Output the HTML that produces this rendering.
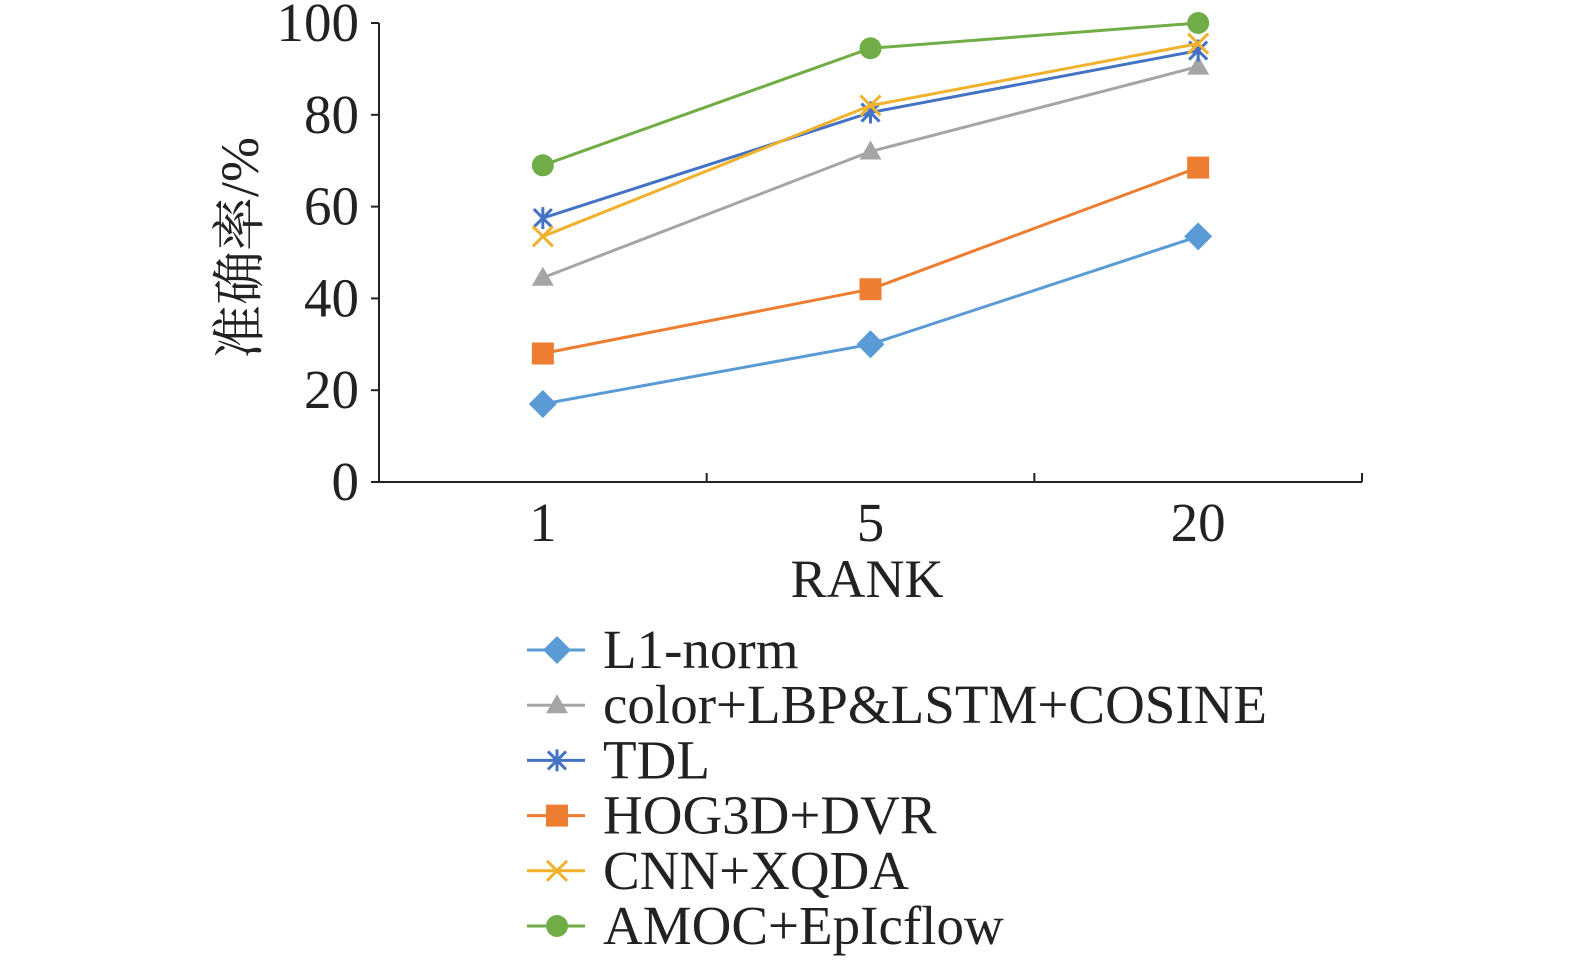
<!DOCTYPE html>
<html><head><meta charset="utf-8"><style>
body{margin:0;background:#fff}
svg text{font-family:"Liberation Serif","Noto Serif CJK SC",serif;fill:#222}
</style></head><body>
<svg id="c" width="1575" height="963"></svg>
<script>
const categories=["1","5","20"];
const yTicks=[0,20,40,60,80,100];
const seriesNames=["L1-norm","color+LBP&LSTM+COSINE","TDL","HOG3D+DVR","CNN+XQDA","AMOC+EpIcflow"];
const l1Values=[17,30,53.5];
const colorLbpValues=[44.5,72,90.5];
const tdlValues=[57.5,80.5,94];
const hogValues=[28,42,68.5];
const cnnValues=[53.5,82,95.5];
const amocValues=[69,94.5,100];
const allValues=[l1Values,colorLbpValues,tdlValues,hogValues,cnnValues,amocValues];
const colors=["#5b9bd5","#a5a5a5","#4472c4","#ed7d31","#f0b12c","#70ad47"];
const markers=["diamond","triangle","star","square","x","circle"];
const NS="http://www.w3.org/2000/svg";
const svg=document.getElementById('c');
const X0=379,X1=1362,Y0=482,Y1=23;
const band=(X1-X0)/categories.length;
const xs=i=>X0+band*(i+0.5);
const ys=v=>Y0-(v/100)*(Y0-Y1);
function el(t,a,p){const e=document.createElementNS(NS,t);for(const k in a)e.setAttribute(k,a[k]);(p||svg).appendChild(e);return e;}
const ax=el('line',{x1:X0,y1:Y1,x2:X0,y2:Y0,stroke:'#222','stroke-width':2});


const bx=el('line',{x1:X0,y1:Y0,x2:X1,y2:Y0,stroke:'#222','stroke-width':2});


yTicks.forEach(v=>{
  el('line',{x1:X0-8,y1:ys(v),x2:X0,y2:ys(v),stroke:'#222','stroke-width':2});
  const t=el('text',{x:X0-20,y:ys(v)+18,'text-anchor':'end','font-size':55});
  t.textContent=v;
  
  
});
for(let i=0;i<=categories.length;i++){
  el('line',{x1:X0+band*i,y1:Y0,x2:X0+band*i,y2:Y0-9,stroke:'#222','stroke-width':2});
}
categories.forEach((c,i)=>{
  const t=el('text',{x:xs(i),y:541,'text-anchor':'middle','font-size':55});
  t.textContent=c;
  
  
});
const xt=el('text',{x:867,y:597,'text-anchor':'middle','font-size':54});
xt.textContent='RANK';


const yt=el('text',{x:0,y:0,'text-anchor':'middle','font-size':54,transform:'translate(258,248) rotate(-90)'});
yt.textContent='准确率/%';


function marker(type,x,y,col,g){
  if(type==='diamond')return el('polygon',{points:`${x},${y-14} ${x+14},${y} ${x},${y+14} ${x-14},${y}`,fill:col},g);
  if(type==='triangle')return el('polygon',{points:`${x},${y-11} ${x+11},${y+8} ${x-11},${y+8}`,fill:col},g);
  if(type==='square')return el('rect',{x:x-11,y:y-11,width:22,height:22,fill:col},g);
  if(type==='circle')return el('circle',{cx:x,cy:y,r:11,fill:col},g);
  if(type==='x')return el('path',{d:`M${x-10},${y-10}L${x+10},${y+10}M${x+10},${y-10}L${x-10},${y+10}`,stroke:col,'stroke-width':3},g);
  if(type==='star')return el('path',{d:`M${x-9},${y-9}L${x+9},${y+9}M${x+9},${y-9}L${x-9},${y+9}M${x},${y-11}L${x},${y+11}`,stroke:col,'stroke-width':3},g);
}
allValues.forEach((vals,si)=>{
  const g=el('g',{});
  
  
  el('polyline',{points:vals.map((v,i)=>xs(i)+','+ys(v)).join(' '),fill:'none',stroke:colors[si],'stroke-width':3},g);
  vals.forEach((v,i)=>{
    const m=marker(markers[si],xs(i),ys(v),colors[si],g);
    
    
  });
});
seriesNames.forEach((n,si)=>{
  const y=650+si*55.2;
  const g=el('g',{});
  
  
  el('line',{x1:527,y1:y,x2:585,y2:y,stroke:colors[si],'stroke-width':3},g);
  marker(markers[si],557,y,colors[si],g);
  const t=el('text',{x:603,y:y+18,'font-size':55},g);
  t.textContent=n;
});
</script>
</body></html>
